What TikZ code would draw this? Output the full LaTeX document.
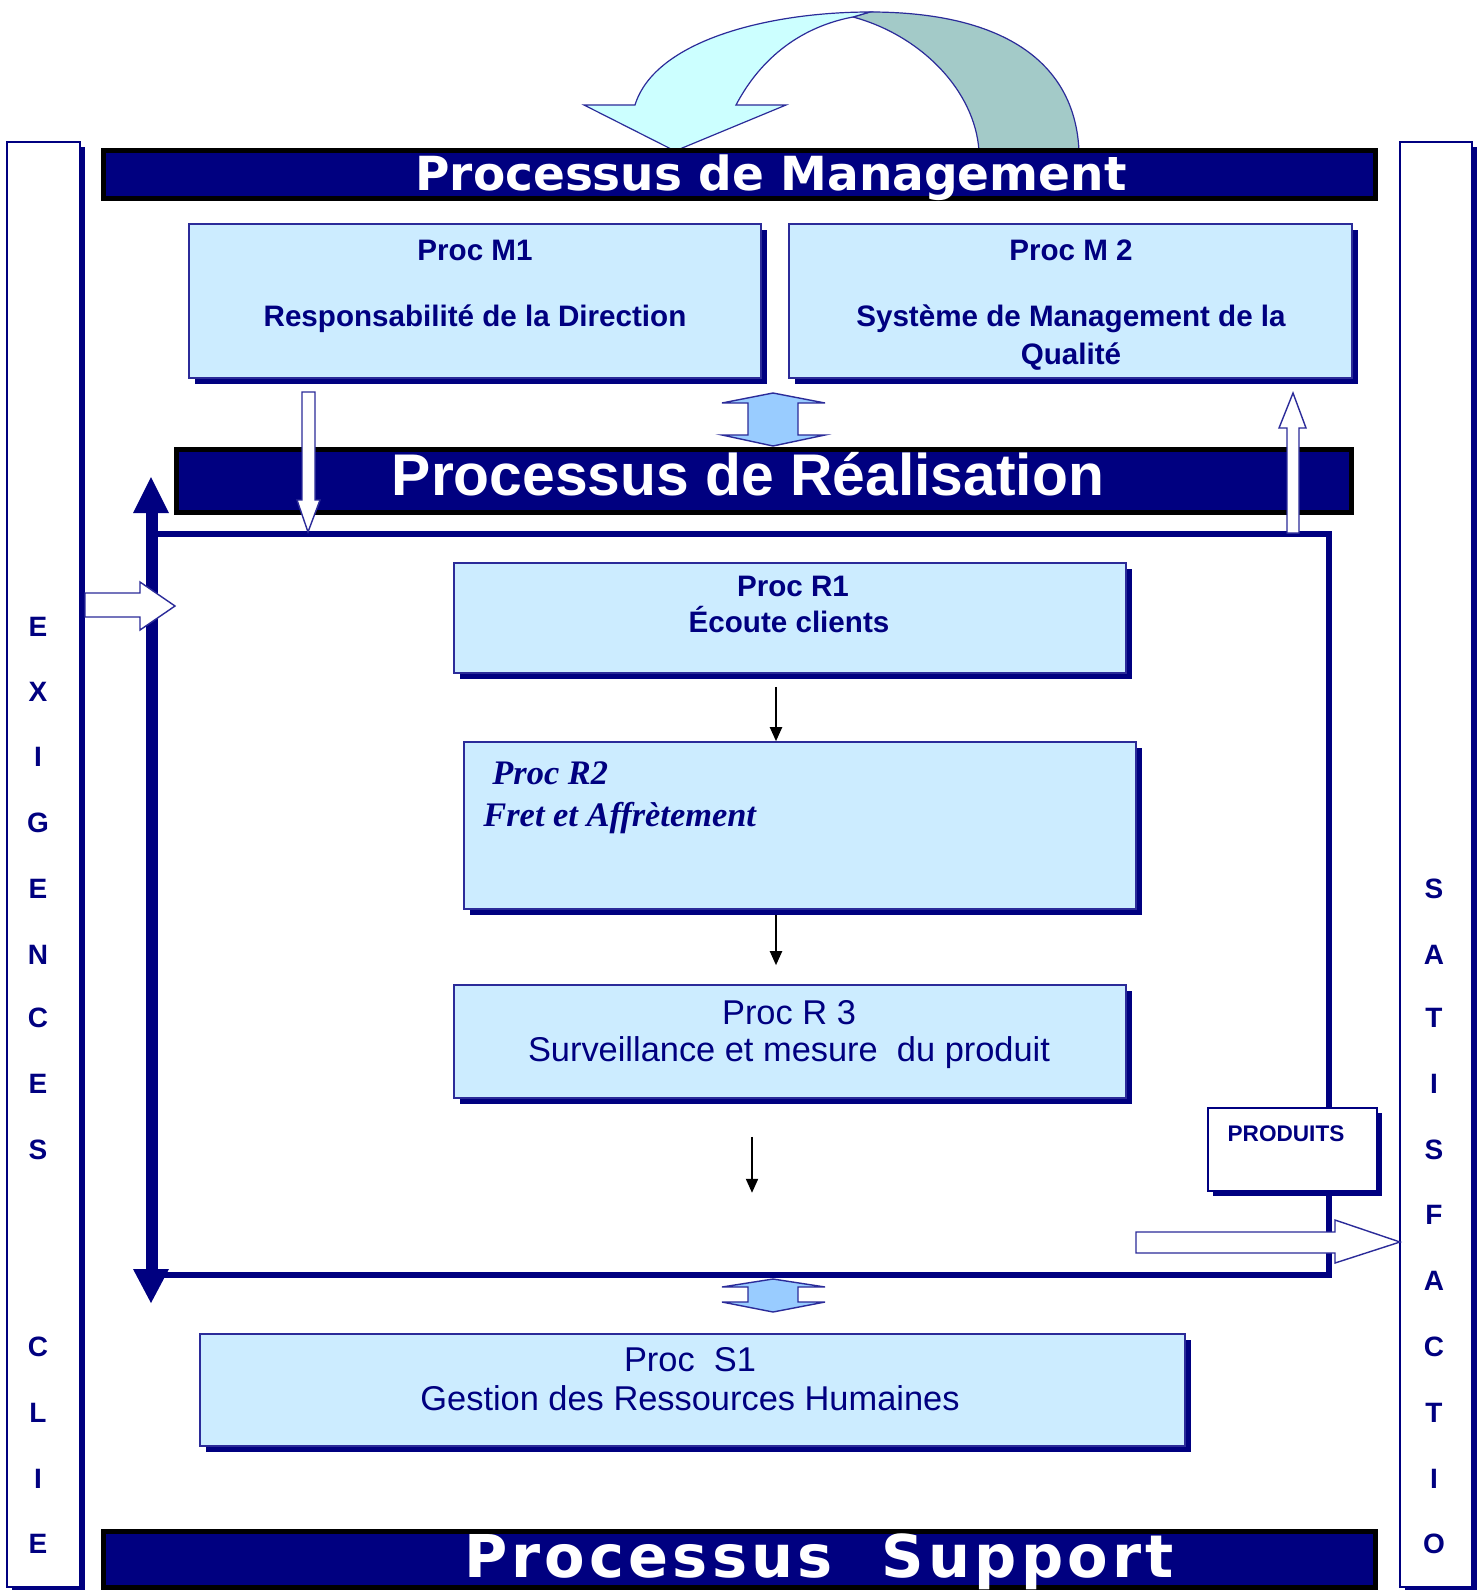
\documentclass[tikz,border=0pt]{standalone}
\usepackage{fontspec}
\setmainfont{Liberation Sans}
\newfontfamily\dvs{DejaVu Sans}
\newfontfamily\dvsls[LetterSpace=7]{DejaVu Sans}
\newfontfamily\lserif{Liberation Serif}
\usetikzlibrary{arrows.meta,calc,shadows}
\definecolor{navy}{HTML}{000080}
\definecolor{boxfill}{HTML}{CCECFF}
\definecolor{blockfill}{HTML}{99CCFF}
\definecolor{cyanarr}{HTML}{CCFFFF}
\definecolor{tealarr}{HTML}{A3CAC8}
\definecolor{arrline}{HTML}{2B2B99}
\begin{document}
\begin{tikzpicture}[x=0.5pt,y=-0.5pt,
  procbox/.style={draw=arrline,line width=0.8pt,fill=boxfill,inner sep=0pt,
    general shadow={fill=navy,shadow xshift=3pt,shadow yshift=-3pt}},
  prodbox/.style={draw=navy,line width=0.8pt,fill=white,inner sep=0pt,
    general shadow={fill=navy,shadow xshift=2.5pt,shadow yshift=-2.5pt}},
  bar/.style={draw=black,fill=navy,line width=2.5pt,inner sep=0pt},
  bartxt/.style={text=white,anchor=base,inner sep=0pt},
  boxtxt/.style={text=navy,font=\fontsize{14.8}{17}\selectfont\bfseries,anchor=base,inner sep=0pt},
  plaintxt/.style={text=navy,font=\fontsize{17.2}{20}\selectfont,anchor=base,inner sep=0pt},
  italtxt/.style={text=navy,font=\lserif\fontsize{17.2}{20}\selectfont\bfseries\itshape,anchor=base west,inner sep=0pt},
  lettertxt/.style={text=navy,font=\fontsize{14}{16}\selectfont\bfseries,anchor=base,inner sep=0pt},
  hollow/.style={fill=white,draw=arrline,line width=0.7pt,line join=miter},
  blockarrow/.style={fill=blockfill,draw=arrline,line width=0.7pt},
  blk/.style={draw=black,line width=1pt,-{Triangle[width=6pt,length=7pt]}},
  column/.style={draw=navy,fill=white,line width=0.6pt},
  colshadow/.style={fill=navy}
]
\useasboundingbox (0,0) rectangle (1482,1590);
\fill[white] (0,0) rectangle (1482,1590);

% side columns
\fill[colshadow] (12,147) rectangle (85,1592);
\draw[column] (7,142) rectangle (80,1587);
\fill[colshadow] (1405,147) rectangle (1477,1592);
\draw[column] (1400,142) rectangle (1472,1587);

% curved arrow at the top
\filldraw[fill=tealarr,draw=arrline,line width=0.6pt]
  (853,17) -- (870,12) .. controls (1000,12) and (1075,60) .. (1079,151)
  -- (979,151) .. controls (975,90) and (920,35) .. (853,17) -- cycle;
\filldraw[fill=cyanarr,draw=arrline,line width=0.6pt]
  (853,17) -- (870,12) .. controls (770,12) and (655,40) .. (635,105)
  -- (584,105) -- (675,151) -- (786,105) -- (736,105)
  .. controls (765,50) and (810,25) .. (853,17) -- cycle;

% bars
\node[bar,minimum width=636pt,minimum height=24pt] (mbar) at (739.5,174.5) {};
\node[bartxt,font=\dvs\fontsize{23.5}{26}\selectfont\bfseries] (mtxt) at (771,190) {Processus de Management};

% management boxes
\node[procbox,minimum width=286pt,minimum height=77pt] (M1) at (475,301) {};
\node[boxtxt] (M1a) at (475,260) {Proc M1};
\node[boxtxt] (M1b) at (475,326) {Responsabilité de la Direction};
\node[procbox,minimum width=281.5pt,minimum height=77pt] (M2) at (1070.5,301) {};
\node[boxtxt] (M2a) at (1071,260) {Proc M 2};
\node[boxtxt] (M2b) at (1071,326) {Système de Management de la};
\node[boxtxt] (M2c) at (1071,364) {Qualité};

% realisation bar
\node[bar,minimum width=587.5pt,minimum height=31.5pt] (rbar) at (764,481) {};
\node[bartxt,font=\fontsize{29.4}{32}\selectfont\bfseries] (rtxt) at (748,495) {Processus de Réalisation};

% block double arrow between management and realisation
\filldraw[blockarrow] (773,393) -- (825,403) -- (798,403) -- (798,435) -- (825,435)
  -- (773,446) -- (722,435) -- (748,435) -- (748,403) -- (722,403) -- cycle;

% realisation frame
\draw[navy,line width=2.6pt] (152,534) -- (1329,534) -- (1329,1275) -- (152,1275);
% left thick double arrow
\fill[navy] (146,510) rectangle (158,1271);
\fill[navy] (133,513) -- (151,477) -- (169,513) -- cycle;
\fill[navy] (133,1269) -- (151,1303) -- (169,1269) -- cycle;

% hollow arrows to / from management
\filldraw[hollow] (302,392) -- (315,392) -- (315,500) -- (320,500) -- (308,532)
  -- (297,500) -- (302,500) -- cycle;
\filldraw[hollow] (1287,533) -- (1299,533) -- (1299,428) -- (1306,428) -- (1293,393)
  -- (1279,428) -- (1287,428) -- cycle;

% realisation boxes
\node[procbox,minimum width=336pt,minimum height=55pt] (R1) at (790,618) {};
\node[boxtxt] (R1a) at (793,596) {Proc R1};
\node[boxtxt] (R1b) at (789,632) {Écoute clients};

\node[procbox,minimum width=336pt,minimum height=83.5pt] (R2) at (800,825.5) {};
\node[italtxt] (R2a) at (492,784) {Proc R2};
\node[italtxt] (R2b) at (483,826) {Fret et Affrètement};

\node[procbox,minimum width=336pt,minimum height=56.5pt] (R3) at (790,1041.5) {};
\node[plaintxt] (R3a) at (789,1024) {Proc R 3};
\node[plaintxt] (R3b) at (789,1061) {Surveillance et mesure \ du produit};

% small black arrows
\draw[blk] ([shift={(-14,13)}]R1.south) -- ([shift={(-24,0)}]R2.north);
\draw[blk] ([shift={(-24,5)}]R2.south) -- ([shift={(-14,-19)}]R3.north);
\coordinate (R3out) at ([shift={(-38,94)}]R3.south);
\draw[blk] ([shift={(-38,38)}]R3.south) -- (R3out);

% produits box
\node[prodbox,minimum width=84.5pt,minimum height=41.5pt] (P) at (1292.5,1149.5) {};
\node[text=navy,font=\fontsize{11.3}{13}\selectfont\bfseries,anchor=base,inner sep=0pt] (Ptxt) at (1286,1141) {PRODUITS};

% big hollow arrow to satisfaction
\filldraw[hollow] (1136,1232) -- (1335,1232) -- (1335,1220) -- (1400,1242)
  -- (1335,1263) -- (1335,1253) -- (1136,1253) -- cycle;

% hollow arrow from exigences
\filldraw[hollow] (85,593) -- (140,593) -- (140,582) -- (175,606) -- (140,630)
  -- (140,617) -- (85,617) -- cycle;

% bottom block double arrow
\filldraw[blockarrow] (773,1279) -- (825,1287) -- (798,1287) -- (798,1302) -- (825,1302)
  -- (773,1312) -- (722,1302) -- (748,1302) -- (748,1287) -- (722,1287) -- cycle;

% support box
\node[procbox,minimum width=492.5pt,minimum height=56pt] (S1) at (692.5,1390) {};
\node[plaintxt] (S1a) at (690,1371) {Proc \ S1};
\node[plaintxt] (S1b) at (690,1410) {Gestion des Ressources Humaines};

% support bar
\node[bar,minimum width=636pt,minimum height=28pt] (sbar) at (739.5,1559.5) {};
\node[bartxt,font=\dvsls\fontsize{29.5}{32}\selectfont\bfseries] (stxt) at (819,1577) {Processus \ Support};

% column letters
\foreach \l/\y [count=\i] in {E/626,X/691,I/756,G/822,E/888,N/954,C/1017,E/1083,S/1149,C/1346,L/1412,I/1478,E/1543}
  \node[lettertxt] (L\i) at (38,\y+10) {\l};
\foreach \l/\y [count=\i] in {S/888,A/954,T/1017,I/1083,S/1149,F/1214,A/1280,C/1346,T/1412,I/1478,O/1543}
  \node[lettertxt] (Rt\i) at (1434,\y+10) {\l};
\end{tikzpicture}
\end{document}
